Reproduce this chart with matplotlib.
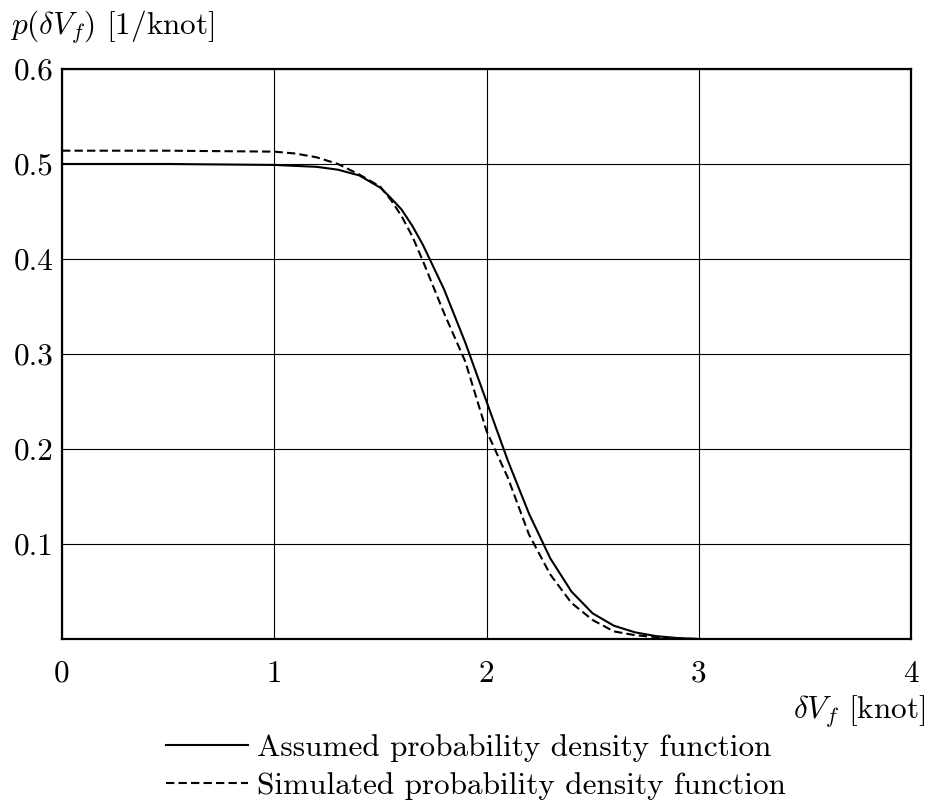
import matplotlib
matplotlib.use("Agg")
import matplotlib.pyplot as plt

# ---------------- DATA ----------------

dv = [0.0, 0.5, 1.0, 1.1, 1.2, 1.3, 1.4, 1.5, 1.55, 1.6, 1.65, 1.7, 1.8, 1.9,
      2.0, 2.1, 2.2, 2.3, 2.4, 2.5, 2.6, 2.7, 2.8, 2.9, 3.0]

p_assumed = [0.500, 0.500, 0.499, 0.498, 0.497, 0.494, 0.488, 0.475, 0.464,
             0.452, 0.435, 0.415, 0.368, 0.312, 0.250, 0.188, 0.132, 0.085,
             0.050, 0.027, 0.014, 0.007, 0.003, 0.001, 0.000]

p_simulated = [0.514, 0.514, 0.513, 0.511, 0.507, 0.500, 0.489, 0.476, 0.462,
               0.445, 0.424, 0.398, 0.343, 0.292, 0.219, 0.170, 0.110, 0.068,
               0.038, 0.020, 0.008, 0.004, 0.002, 0.0005, 0.000]

x_ticks = [0, 1, 2, 3, 4]
y_ticks = [0.1, 0.2, 0.3, 0.4, 0.5, 0.6]
y_tick_labels = ["0.1", "0.2", "0.3", "0.4", "0.5", "0.6"]

# ---------------- STYLE ----------------

plt.rcParams["font.family"] = "cmr10"
plt.rcParams["mathtext.fontset"] = "cm"
plt.rcParams["axes.unicode_minus"] = False

fs = 22.5

# ---------------- PLOT ----------------

fig = plt.figure(figsize=(9.30, 8.05), dpi=100)
ax = fig.add_axes([0.0667, 0.2062, 0.9129, 0.7081])

ax.plot(dv, p_assumed, color="black", lw=1.5, label="Assumed probability density function")
ax.plot(dv, p_simulated, color="black", lw=1.5, linestyle=(0, (4, 2)),
        label="Simulated probability density function")

ax.set_xlim(0, 4)
ax.set_ylim(0, 0.6)

ax.set_xticks(x_ticks)
ax.set_xticklabels([str(t) for t in x_ticks])
ax.set_yticks(y_ticks)
ax.set_yticklabels(y_tick_labels)

ax.tick_params(axis="both", length=0, labelsize=fs)
ax.tick_params(axis="x", pad=15)
ax.tick_params(axis="y", pad=6)

ax.grid(True, color="black", lw=0.8)
for s in ax.spines.values():
    s.set_linewidth(1.6)

fig.text(0.011, 1 - 27 / 805, r"$p(\delta V_f)$ [1/knot]", fontsize=fs, va="center", ha="left")
fig.text(0.995, 1 - 712 / 805, r"$\delta V_f$ [knot]", fontsize=fs, va="center", ha="right")

fig.legend(loc="center left", bbox_to_anchor=(0.179, 1 - 767 / 805),
           frameon=False, fontsize=fs, handlelength=2.6, handletextpad=0.3,
           labelspacing=0.3, borderpad=0, borderaxespad=0)

fig.savefig("out.png", dpi=100)
